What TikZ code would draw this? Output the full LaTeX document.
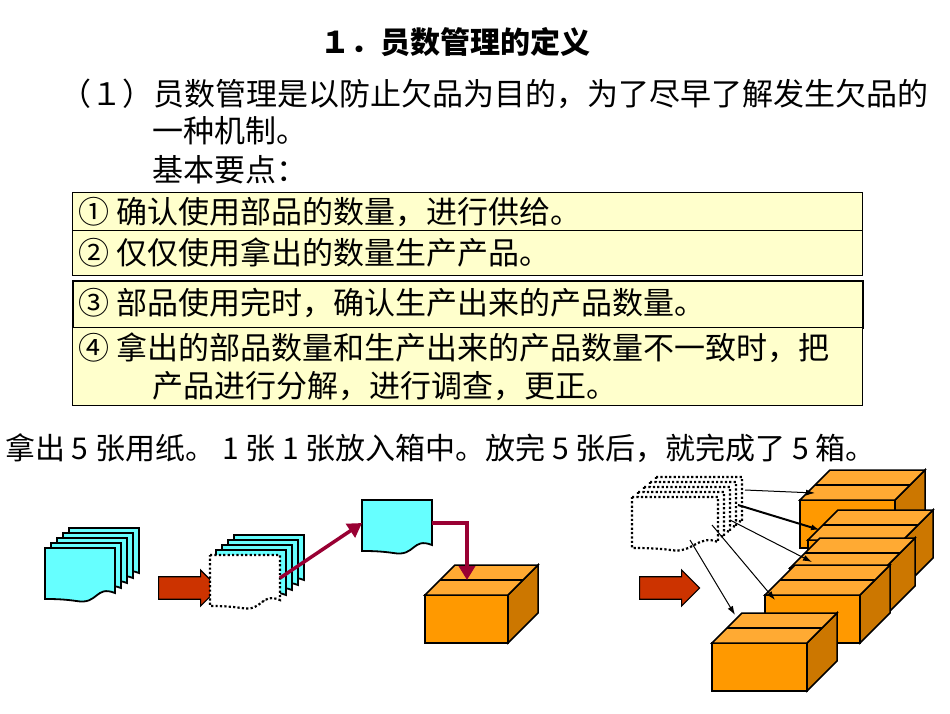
\documentclass[tikz,border=0pt]{standalone}
\usepackage{fontspec}
\setmainfont{Noto Sans CJK SC}
\usetikzlibrary{shapes.arrows,arrows.meta}
\definecolor{paperc}{HTML}{66FFFF}
\definecolor{boxfront}{HTML}{FF9900}
\definecolor{boxtop}{HTML}{FFAA33}
\definecolor{boxside}{HTML}{CC7700}
\definecolor{arrc}{HTML}{CC3300}
\definecolor{maroon}{HTML}{990033}
\definecolor{itemc}{HTML}{FFFFCC}
\begin{document}
\begin{tikzpicture}[x=1pt,y=-1pt,
  txt/.style={font=\fontsize{31}{35}\selectfont,anchor=west,inner sep=0},
  itembox/.style={draw,line width=1.2pt,fill=itemc,minimum width=790pt,anchor=north west,inner sep=0},
  pg/.style={draw,line width=1.8pt,fill=paperc},
  pgd/.style={draw,line width=2.2pt,dash pattern=on 2.2pt off 2.2pt,fill=white},
  blockarr/.style={draw,line width=1.2pt,fill=arrc,single arrow,minimum height=60pt,minimum width=36pt,single arrow head extend=4pt,inner sep=6pt},
  marr/.style={draw=maroon,line width=3.5pt,-{Triangle[length=14pt,width=16pt]}},
  thin/.style={-{Latex[length=9pt,width=6pt]},line width=1pt},
  boxf/.style={draw,line width=1.5pt,fill=boxfront},
]
\useasboundingbox (0,0) rectangle (950,713);
\newcommand\paper[4]{\path[#1] (#2,#3) -- ++(#4,0) -- ++(0,45) .. controls +(-20,-8) and +(22,4) .. ++(-0.55*#4,8) .. controls +(-14,-2) and +(8,0) .. (#2,#3+51) -- cycle;}
\newcommand\cbox[3]{%
 \path[boxf] (#1,#2) rectangle ++(#3,48);
 \path[boxf,fill=boxside] (#1+#3,#2) -- ++(30,-30) -- ++(0,48) -- ++(-30,30) -- cycle;
 \path[boxf,fill=boxtop] (#1,#2) -- ++(30,-30) -- ++(#3,0) -- ++(-30,30) -- cycle;
 \draw[line width=1.5pt] (#1+15,#2-15) -- ++(#3,0);}
% text
\node[txt,anchor=center,font=\fontsize{30}{34}\selectfont\bfseries] (title) at (455,42) {１．员数管理的定义};
\node[txt] (l1) at (60,94) {（１）员数管理是以防止欠品为目的，为了尽早了解发生欠品的};
\node[txt] (l2) at (152,131) {一种机制。};
\node[txt] (l3) at (152,170) {基本要点：};
\node[itembox,minimum height=38pt] (b1) at (72,192) {};
\node[itembox,minimum height=45pt] (b2) at (72,230) {};
\node[itembox,minimum height=47pt,line width=2pt] (b3) at (72,280) {};
\node[itembox,minimum height=78pt] (b4) at (72,327) {};
\node[txt] (t1) at (78,212) {① 确认使用部品的数量，进行供给。};
\node[txt] (t2) at (78,253) {② 仅仅使用拿出的数量生产产品。};
\node[txt] (t3) at (78,303) {③ 部品使用完时，确认生产出来的产品数量。};
\node[txt] (t4) at (78,348) {④ 拿出的部品数量和生产出来的产品数量不一致时，把};
\node[txt] (t5) at (152,386) {产品进行分解，进行调查，更正。};
\node[txt,font=\fontsize{30}{34}\selectfont] (bl) at (5,448) {拿出\ 5\ 张用纸。\ 1\ 张\ 1\ 张放入箱中。放完\ 5\ 张后，就完成了\ 5\ 箱。};
% stack 1
\foreach \i in {4,3,2,1,0} {\paper{pg}{45+6*\i}{548-5*\i}{70}}
\node[blockarr] (a1) at (183,588) {};
% stack 2
\foreach \i in {4,3,2,1} {\paper{pg}{210+6*\i}{555-5*\i}{70}}
\paper{pgd}{210}{555}{70}
\coordinate (s2) at (280,578);
% single paper
\paper{pg}{362}{500}{70}
\coordinate (sp) at (362,523);
\coordinate (spr) at (432,523);
\draw[marr] (s2) -- (sp);
% box
\cbox{425}{595}{83}
\coordinate (bt) at (467,580);
\draw[marr] (spr) -| (bt);
\node[blockarr] (a2) at (664,588) {};
% dashed stack
\foreach \i in {4,3,2,1,0} {\paper{pgd}{632+6*\i}{497-5*\i}{86}}
% boxes
\cbox{800}{500}{95}
\cbox{808}{540}{95}
\cbox{790}{568}{95}
\cbox{765}{595}{95}
\cbox{712}{643}{95}
\coordinate (d1) at (745,490); \coordinate (e1) at (815,493);
\coordinate (d2) at (738,505); \coordinate (e2) at (820,530);
\coordinate (d3) at (730,520); \coordinate (e3) at (812,562);
\coordinate (d4) at (712,525); \coordinate (e4) at (775,600);
\coordinate (d5) at (690,540); \coordinate (e5) at (735,615);
\draw[thin] (d1) -- (e1);
\draw[thin,line width=2pt] (d2) -- (e2);
\draw[thin] (d3) -- (e3);
\draw[thin] (d4) -- (e4);
\draw[thin] (d5) -- (e5);
\end{tikzpicture}
\end{document}
